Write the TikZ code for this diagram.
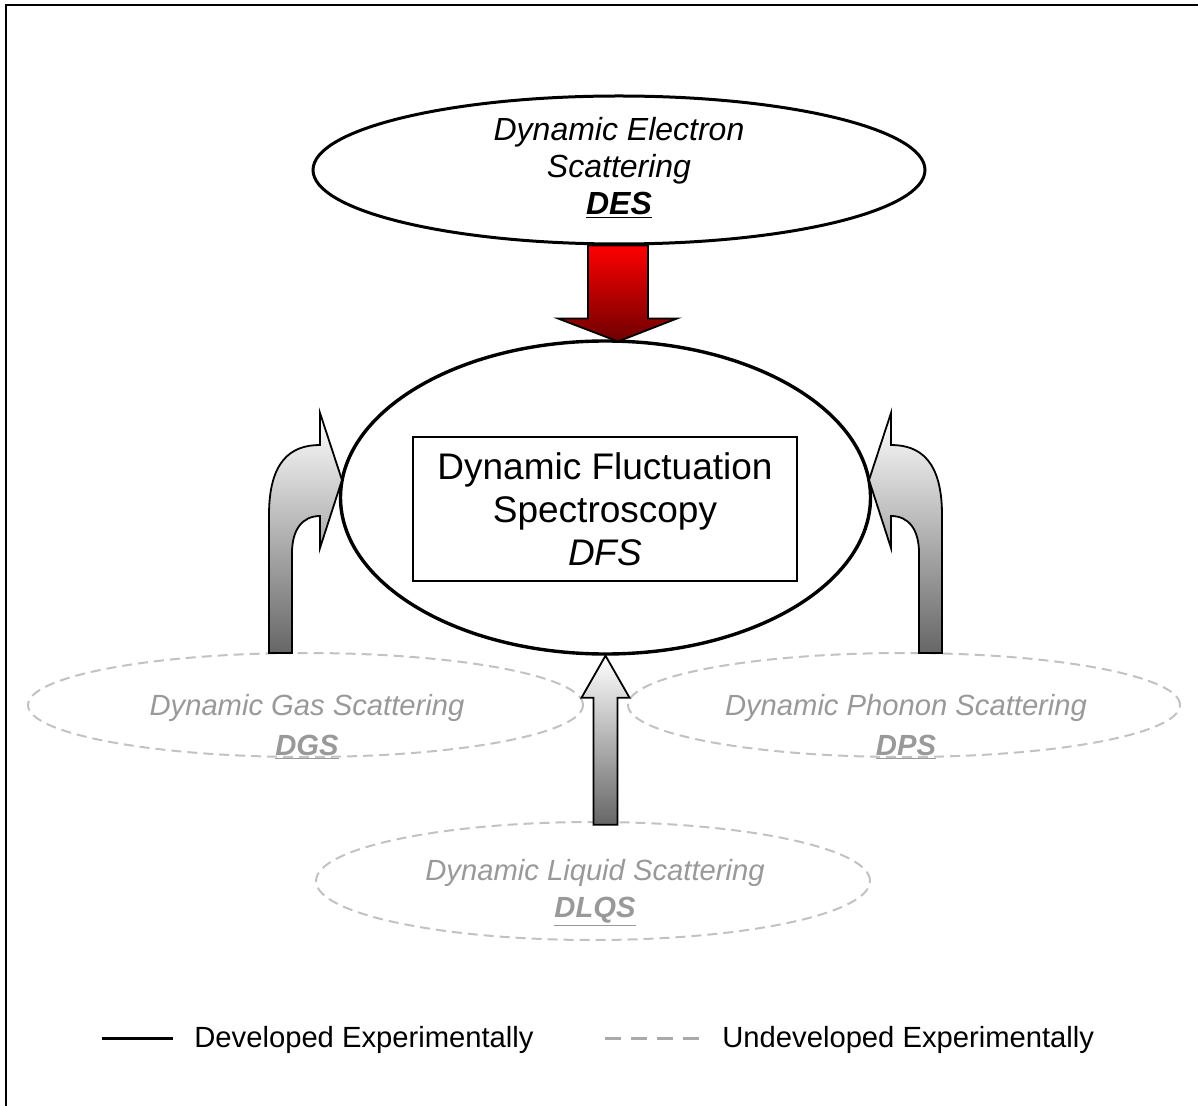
\documentclass[tikz,border=0pt]{standalone}
\usepackage{fontspec}
\setmainfont{Liberation Sans}
\usetikzlibrary{shapes.geometric,calc}
\definecolor{dashgray}{HTML}{C2C2C2}
\definecolor{txtgray}{HTML}{999999}
\definecolor{leggray}{HTML}{AAAAAA}
\definecolor{darkred}{HTML}{6E0000}
\definecolor{arrgray}{HTML}{666666}
\definecolor{arrlight}{HTML}{FFFFFF}
\begin{document}
\begin{tikzpicture}[x=0.5pt,y=-0.5pt,
  solidell/.style={ellipse, draw=black, line width=1.6pt, inner sep=0pt},
  grayell/.style={ellipse, draw=dashgray, line width=1pt, dash pattern=on 5pt off 3pt, inner sep=0pt},
  blacklbl/.style={align=center, font=\fontsize{16}{18.3}\selectfont\itshape, inner sep=0pt},
  graylbl/.style={align=center, text=txtgray, font=\fontsize{14.6}{20}\selectfont\itshape, inner sep=0pt},
  leglbl/.style={anchor=west, font=\fontsize{14.6}{17}\selectfont, inner sep=0pt},
  grayarrow/.style={draw=black, line width=0.9pt, top color=arrlight, bottom color=arrgray},
  redarrow/.style={draw=black, line width=0.9pt, top color=red, bottom color=darkred}]
\useasboundingbox (0,0) rectangle (1198,1106);

% frame
\draw[line width=1pt] (6,1106) -- (6,5) -- (1198,5);

% gray (undeveloped) ellipses
\node[grayell, minimum width=277.5pt, minimum height=52pt] (dgs) at (305.5,705) {};
\node[grayell, minimum width=276pt, minimum height=52pt] (dps) at (904,705) {};
\node[grayell, minimum width=277pt, minimum height=59pt] (dlqs) at (593,881) {};

% main ellipses
\node[solidell, line width=1.5pt, minimum width=306pt, minimum height=74pt] (des) at (619,170) {};
\node[solidell, line width=1.7pt, minimum width=265pt, minimum height=156.5pt] (dfs) at (605.5,497.5) {};

% red arrow DES -> DFS
\path[redarrow] ($(des.south)+(-31,0)$) -- ($(des.south)+(29,0)$) -- ($(des.south)+(29,73)$)
  -- ($(des.south)+(58,73)$) -- ($(des.south)+(-1,96)$) -- ($(des.south)+(-61,73)$)
  -- ($(des.south)+(-31,73)$) -- cycle;

% up arrow DLQS -> DFS
\path[grayarrow] ($(dfs.south)+(-12,169)$) -- ($(dfs.south)+(-12,42)$) -- ($(dfs.south)+(-24,42)$)
  -- (dfs.south) -- ($(dfs.south)+(24,42)$) -- ($(dfs.south)+(12,42)$)
  -- ($(dfs.south)+(12,169)$) -- cycle;

% curved arrow DGS -> DFS
\path[grayarrow] (269,653) -- (269,515) .. controls (269,462) and (290,445) .. (320,445)
  -- (320,413) -- (342,480) -- (320,548) -- (320,516)
  .. controls (302,516) and (292,530) .. (292,553) -- (292,653) -- cycle;

% curved arrow DPS -> DFS
\path[grayarrow] (942,653) -- (942,515) .. controls (942,462) and (921,445) .. (891,445)
  -- (891,413) -- (869,480) -- (891,548) -- (891,516)
  .. controls (909,516) and (919,530) .. (919,553) -- (919,653) -- cycle;

% DFS box
\node[draw=black, line width=0.8pt, minimum width=192pt, minimum height=72pt,
  align=center, font=\fontsize{18.5}{21.5}\selectfont] (dfsbox) at (605,509)
  {Dynamic Fluctuation\\Spectroscopy\\\textit{DFS}};

% labels
\node[blacklbl] (destext) at (619,168) {Dynamic Electron\\Scattering\\\textbf{\underline{DES}}};
\node[graylbl] (dgstext) at (307,727) {Dynamic Gas Scattering\\\textbf{\underline{DGS}}};
\node[graylbl] (dpstext) at (906,727) {Dynamic Phonon Scattering\\\textbf{\underline{DPS}}};
\node[graylbl, font=\fontsize{14.6}{18.5}\selectfont\itshape] (dlqstext) at (595,893) {Dynamic Liquid Scattering\\\textbf{\underline{DLQS}}};

% legend
\coordinate (l1a) at (102,1038);
\coordinate (l1b) at (173,1038);
\draw[line width=1.5pt] (l1a) -- (l1b);
\node[leglbl] (leg1) at (194,1040) {Developed Experimentally};
\coordinate (l2a) at (605,1038);
\coordinate (l2b) at (700,1038);
\draw[leggray, line width=1.5pt, dash pattern=on 8pt off 5pt] (l2a) -- (l2b);
\node[leglbl] (leg2) at (722,1040) {Undeveloped Experimentally};
\end{tikzpicture}
\end{document}
